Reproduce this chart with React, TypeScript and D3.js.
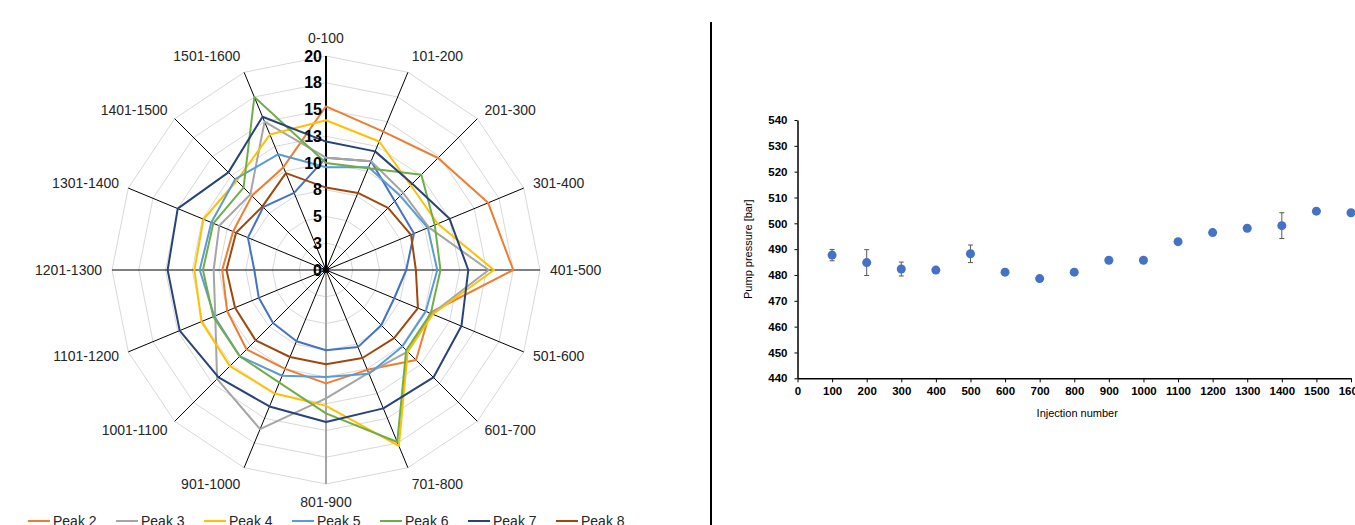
import React, { useEffect, useRef } from "react";
import * as d3 from "d3";

// radar: pressure-peak widths per injection block
const categories = [
  "0-100", "101-200", "201-300", "301-400", "401-500", "501-600", "601-700", "701-800",
  "801-900", "901-1000", "1001-1100", "1101-1200", "1201-1300", "1301-1400", "1401-1500", "1501-1600"
];
const peak1 = [10.5, 11.0, 9.1, 8.9, 7.5, 6.9, 7.3, 7.8, 7.5, 7.2, 7.0, 6.8, 6.7, 7.9, 8.3, 7.8];
const peak2 = [15.3, 14.0, 14.8, 16.4, 17.5, 10.5, 11.9, 10.1, 10.6, 10.0, 10.5, 10.0, 9.7, 9.4, 9.8, 10.4];
const peak3 = [10.5, 11.0, 10.2, 10.4, 15.2, 10.7, 10.8, 10.4, 12.0, 16.1, 14.4, 11.2, 10.5, 10.8, 10.0, 15.0];
const peak4 = [14.0, 13.0, 11.2, 11.3, 15.7, 10.8, 10.8, 17.8, 12.7, 12.5, 12.7, 12.6, 12.3, 12.4, 11.8, 13.7];
const peak5 = [9.6, 10.4, 9.8, 10.3, 10.4, 10.1, 10.1, 10.5, 10.0, 10.7, 11.4, 11.3, 11.8, 11.6, 12.0, 11.7];
const peak6 = [10.0, 10.3, 12.6, 11.0, 10.7, 10.6, 10.6, 17.4, 13.4, 11.4, 11.4, 11.4, 11.5, 11.4, 10.9, 17.5];
const peak7 = [12.0, 12.0, 11.4, 12.5, 13.3, 13.7, 14.2, 14.0, 14.2, 13.8, 14.2, 14.8, 14.8, 15.0, 12.9, 15.5];
const peak8 = [7.7, 7.8, 8.2, 8.6, 8.4, 9.3, 9.0, 8.9, 8.8, 8.8, 9.3, 9.2, 9.3, 9.1, 8.4, 9.8];
const seriesNames = ["Peak 1", "Peak 2", "Peak 3", "Peak 4", "Peak 5", "Peak 6", "Peak 7", "Peak 8"];
const seriesValues = [peak1, peak2, peak3, peak4, peak5, peak6, peak7, peak8];
const seriesColors = ["#4472C4", "#ED7D31", "#A5A5A5", "#FFC000", "#5B9BD5", "#70AD47", "#264478", "#9E480E"];
const legendNames = seriesNames.slice(1);
const radialTicks = [0, 2.5, 5, 7.5, 10, 12.5, 15, 17.5, 20];

// scatter: pump pressure vs injection number
const injections = [100, 200, 300, 400, 500, 600, 700, 800, 900, 1000, 1100, 1200, 1300, 1400, 1500, 1600];
const pressure = [487.7, 484.8, 482.3, 481.9, 488.2, 481.1, 478.6, 481.1, 485.7, 485.7, 492.9, 496.4, 498.1, 499.1, 504.7, 504.1];
const pressureErr = [2.2, 5.0, 2.7, 0, 3.4, 0, 0, 0, 0, 0, 0, 0, 0, 5.0, 0, 0];
const yTicks = [440, 450, 460, 470, 480, 490, 500, 510, 520, 530, 540];
const xTicks = [0, 100, 200, 300, 400, 500, 600, 700, 800, 900, 1000, 1100, 1200, 1300, 1400, 1500, 1600];

const FONT = "'Liberation Sans', Arial, sans-serif";

function App() {
  const svgRef = useRef<SVGSVGElement>(null);

  useEffect(() => {
    const svg = d3.select(svgRef.current);
    svg.selectAll("*").remove();

    // ---------- radar ----------
    const cx = 326, cy = 270, R = 214;
    const rScale = d3.scaleLinear().domain([0, 20]).range([0, R]);
    const angle = d3.scaleLinear().domain([0, categories.length]).range([0, 2 * Math.PI]);
    const radar = svg.append("g").attr("transform", `translate(${cx},${cy})`);

    const ring = d3.lineRadial<string>()
      .angle((_, i) => angle(i))
      .curve(d3.curveLinearClosed);

    radar.selectAll(".ring")
      .data(radialTicks.slice(1))
      .join("path")
      .attr("class", "ring")
      .attr("d", t => ring.radius(rScale(t))(categories))
      .attr("fill", "none")
      .attr("stroke", "#d9d9d9")
      .attr("stroke-width", 1);

    radar.selectAll(".spoke")
      .data(categories)
      .join("line")
      .attr("class", "spoke")
      .attr("x1", 0).attr("y1", 0)
      .attr("x2", (_, i) => R * Math.sin(angle(i)))
      .attr("y2", (_, i) => -R * Math.cos(angle(i)))
      .attr("stroke", (_, i) => (i === 8 ? "#a6a6a6" : "#000"))
      .attr("stroke-width", (_, i) => (i === 0 || i === 8 ? 2 : 1));

    const line = d3.lineRadial<number>()
      .angle((_, i) => angle(i))
      .radius(d => rScale(d))
      .curve(d3.curveLinearClosed);

    radar.selectAll(".series")
      .data(seriesValues)
      .join("path")
      .attr("class", "series")
      .attr("d", d => line(d))
      .attr("fill", "none")
      .attr("stroke", (_, i) => seriesColors[i])
      .attr("stroke-width", 2)
      .attr("stroke-linejoin", "round");

    radar.append("circle").attr("r", 3).attr("fill", "#000");

    const fmt = d3.format(".0f");
    radar.selectAll(".rlabel")
      .data(radialTicks)
      .join("text")
      .attr("class", "rlabel")
      .attr("x", -4)
      .attr("y", t => -rScale(t))
      .attr("dy", "0.35em")
      .attr("text-anchor", "end")
      .attr("font-family", FONT)
      .attr("font-weight", "bold")
      .attr("font-size", 16)
      .text(t => fmt(t));

    radar.selectAll(".clabel")
      .data(categories)
      .join("text")
      .attr("class", "clabel")
      .attr("x", (_, i) => (R + 10) * Math.sin(angle(i)))
      .attr("y", (_, i) => {
        const c = -Math.cos(angle(i));
        return (R + (Math.abs(c) > 0.9 ? 18 : 12)) * c;
      })
      .attr("dy", "0.35em")
      .attr("text-anchor", (_, i) => {
        const s = Math.sin(angle(i));
        return s > 0.1 ? "start" : s < -0.1 ? "end" : "middle";
      })
      .attr("font-family", FONT)
      .attr("font-size", 14)
      .attr("fill", "#262626")
      .text(d => d);

    // legend (cut by the bottom edge, as in the source)
    const legendX = d3.scaleLinear().domain([0, 1]).range([28, 116]);
    const legend = svg.selectAll(".legend")
      .data(legendNames)
      .join("g")
      .attr("class", "legend")
      .attr("transform", (_, i) => `translate(${legendX(i)},521)`);
    legend.append("line")
      .attr("x1", 0).attr("x2", 22)
      .attr("stroke", (_, i) => seriesColors[i + 1])
      .attr("stroke-width", 2);
    legend.append("text")
      .attr("x", 25)
      .attr("y", 5)
      .attr("font-family", FONT)
      .attr("font-size", 14)
      .attr("fill", "#262626")
      .text(d => d);

    // divider
    svg.append("line")
      .attr("x1", 711).attr("x2", 711)
      .attr("y1", 22).attr("y2", 525)
      .attr("stroke", "#000").attr("stroke-width", 2);

    // ---------- scatter ----------
    const xScale = d3.scaleLinear().domain([0, 1600]).range([797.5, 1351]);
    const yScale = d3.scaleLinear().domain([440, 540]).range([378.3, 120]);

    const xAxis = d3.axisBottom(xScale).tickValues(xTicks).tickFormat(d3.format("d"))
      .tickSize(4).tickSizeOuter(0).tickPadding(5);
    const yAxis = d3.axisLeft(yScale).tickValues(yTicks).tickFormat(d3.format("d"))
      .tickSize(3).tickSizeOuter(0).tickPadding(7);

    const gx = svg.append("g").attr("transform", `translate(0,${yScale(440)})`).call(xAxis);
    const gy = svg.append("g").attr("transform", `translate(${xScale(0)},0)`).call(yAxis);
    [gx, gy].forEach(g => {
      g.select(".domain").attr("stroke", "#000").attr("stroke-width", 1.5);
      g.selectAll(".tick line").attr("stroke", "#000");
      g.selectAll(".tick text")
        .attr("font-family", FONT)
        .attr("font-weight", "bold")
        .attr("font-size", 11.5)
        .attr("fill", "#000");
    });

    const pts = injections.map((x, i) => ({ x, y: pressure[i], e: pressureErr[i] }));

    const errs = svg.selectAll(".err")
      .data(pts.filter(p => p.e > 0))
      .join("g")
      .attr("class", "err")
      .attr("stroke", "#595959")
      .attr("stroke-width", 1);
    errs.append("line")
      .attr("x1", d => xScale(d.x)).attr("x2", d => xScale(d.x))
      .attr("y1", d => yScale(d.y - d.e)).attr("y2", d => yScale(d.y + d.e));
    errs.append("line")
      .attr("x1", d => xScale(d.x) - 2.5).attr("x2", d => xScale(d.x) + 2.5)
      .attr("y1", d => yScale(d.y - d.e)).attr("y2", d => yScale(d.y - d.e));
    errs.append("line")
      .attr("x1", d => xScale(d.x) - 2.5).attr("x2", d => xScale(d.x) + 2.5)
      .attr("y1", d => yScale(d.y + d.e)).attr("y2", d => yScale(d.y + d.e));

    svg.selectAll(".dot")
      .data(pts)
      .join("circle")
      .attr("class", "dot")
      .attr("cx", d => xScale(d.x))
      .attr("cy", d => yScale(d.y))
      .attr("r", 4.5)
      .attr("fill", "#4472C4");

    svg.append("text")
      .attr("transform", `translate(748,${(yScale(440) + yScale(540)) / 2}) rotate(-90)`)
      .attr("dy", "0.35em")
      .attr("text-anchor", "middle")
      .attr("font-family", FONT)
      .attr("font-size", 11)
      .attr("fill", "#000")
      .text("Pump pressure [bar]");

    svg.append("text")
      .attr("x", (xScale(0) + xScale(1600)) / 2 + 3)
      .attr("y", 413)
      .attr("dy", "0.35em")
      .attr("text-anchor", "middle")
      .attr("font-family", FONT)
      .attr("font-size", 11)
      .attr("fill", "#000")
      .text("Injection number");
  }, []);

  return (
    <svg
      ref={svgRef}
      width={1355}
      height={525}
      style={{ position: "absolute", left: 0, top: 0, background: "#fff" }}
    />
  );
}

export default App;
